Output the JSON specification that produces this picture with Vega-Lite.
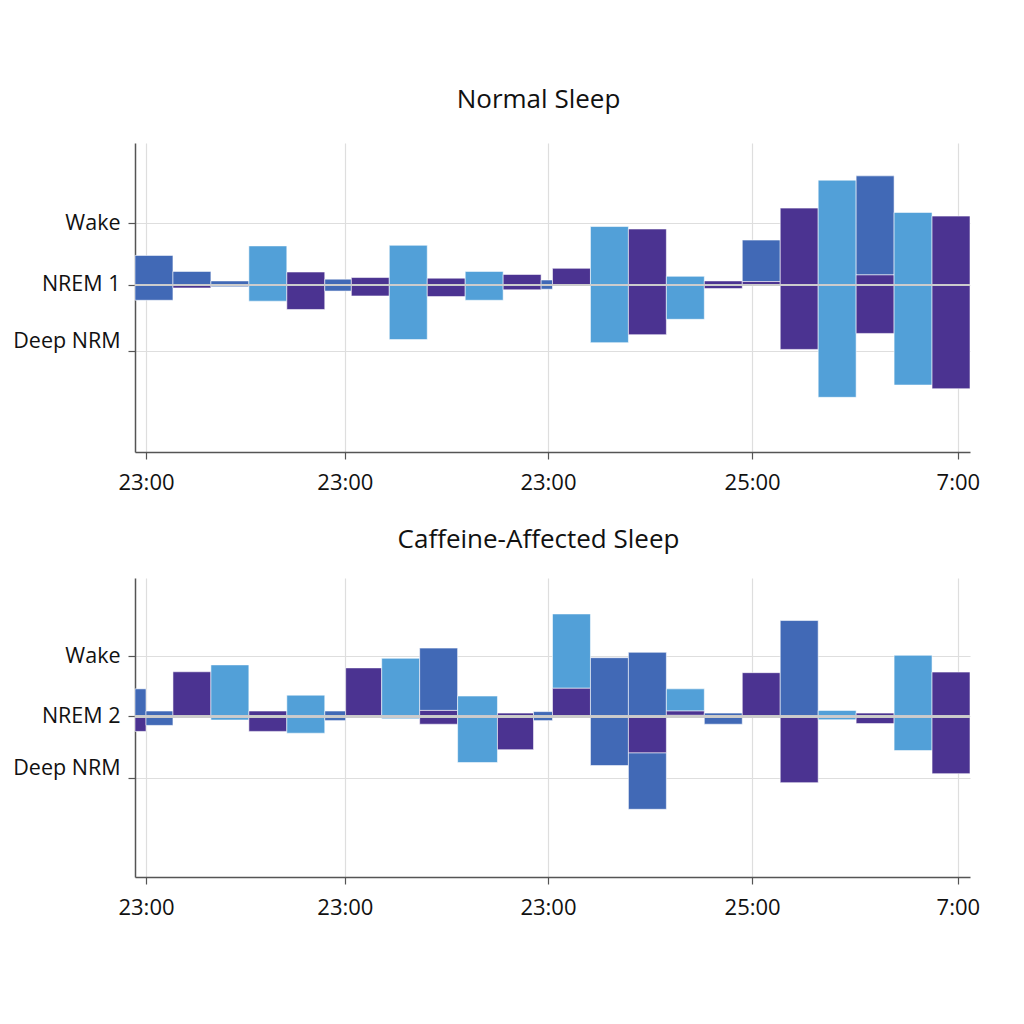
{
  "$schema": "https://vega.github.io/schema/vega-lite/v6.json",
  "background": "white",
  "padding": {"left": 12, "top": 87, "right": 10, "bottom": 10},
  "spacing": 34,
  "config": {
    "view": {"stroke": null},
    "font": "Open Sans",
    "title": {"font": "Open Sans", "fontSize": 26, "fontWeight": "normal", "color": "#111", "anchor": "middle", "frame": "group", "dx": -14},
    "axis": {
      "labelFont": "Open Sans", "labelColor": "#111",
      "domainColor": "#555", "domainWidth": 1.5, "tickColor": "#555", "tickWidth": 1.2, "tickSize": 7,
      "gridColor": "#dedede", "gridWidth": 1.2, "title": null
    }
  },
  "datasets": {
    "normal": [
      {"x0": 0, "x1": 1, "y0": 0.48, "y1": -0.25, "g": "B"},
      {"x0": 1, "x1": 2, "y0": 0.22, "y1": 0, "g": "B"},
      {"x0": 1, "x1": 2, "y0": 0, "y1": -0.05, "g": "C"},
      {"x0": 2, "x1": 3, "y0": 0.065, "y1": -0.03, "g": "B"},
      {"x0": 3, "x1": 4, "y0": 0.635, "y1": -0.265, "g": "A"},
      {"x0": 4, "x1": 5, "y0": 0.21, "y1": -0.40, "g": "C"},
      {"x0": 5, "x1": 5.7, "y0": 0.093, "y1": -0.10, "g": "B"},
      {"x0": 5.7, "x1": 6.7, "y0": 0.12, "y1": -0.18, "g": "C"},
      {"x0": 6.7, "x1": 7.7, "y0": 0.645, "y1": -0.89, "g": "A"},
      {"x0": 7.7, "x1": 8.7, "y0": 0.11, "y1": -0.19, "g": "C"},
      {"x0": 8.7, "x1": 9.7, "y0": 0.22, "y1": -0.25, "g": "A"},
      {"x0": 9.7, "x1": 10.7, "y0": 0.17, "y1": -0.08, "g": "C"},
      {"x0": 10.7, "x1": 11, "y0": 0.08, "y1": -0.07, "g": "B"},
      {"x0": 11, "x1": 12, "y0": 0.27, "y1": -0.015, "g": "C"},
      {"x0": 12, "x1": 13, "y0": 0.95, "y1": -0.94, "g": "A"},
      {"x0": 13, "x1": 14, "y0": 0.91, "y1": -0.81, "g": "C"},
      {"x0": 14, "x1": 15, "y0": 0.14, "y1": -0.56, "g": "A"},
      {"x0": 15, "x1": 16, "y0": 0.065, "y1": -0.06, "g": "C"},
      {"x0": 16, "x1": 17, "y0": 0.73, "y1": 0.055, "g": "B"},
      {"x0": 16, "x1": 17, "y0": 0.055, "y1": -0.015, "g": "C"},
      {"x0": 17, "x1": 18, "y0": 1.25, "y1": -1.05, "g": "C"},
      {"x0": 18, "x1": 19, "y0": 1.705, "y1": -1.83, "g": "A"},
      {"x0": 19, "x1": 20, "y0": 1.775, "y1": 0.163, "g": "B"},
      {"x0": 19, "x1": 20, "y0": 0.163, "y1": -0.79, "g": "C"},
      {"x0": 20, "x1": 21, "y0": 1.18, "y1": -1.63, "g": "A"},
      {"x0": 21, "x1": 22, "y0": 1.12, "y1": -1.69, "g": "C"}
    ],
    "caffeine": [
      {"x0": 0, "x1": 0.29, "y0": 0.46, "y1": 0, "g": "B"},
      {"x0": 0, "x1": 0.29, "y0": 0, "y1": -0.25, "g": "C"},
      {"x0": 0.29, "x1": 1, "y0": 0.09, "y1": -0.15, "g": "B"},
      {"x0": 1, "x1": 2, "y0": 0.745, "y1": -0.01, "g": "C"},
      {"x0": 2, "x1": 3, "y0": 0.86, "y1": -0.06, "g": "A"},
      {"x0": 3, "x1": 4, "y0": 0.09, "y1": -0.25, "g": "C"},
      {"x0": 4, "x1": 5, "y0": 0.355, "y1": -0.28, "g": "A"},
      {"x0": 5, "x1": 5.55, "y0": 0.09, "y1": -0.07, "g": "B"},
      {"x0": 5.55, "x1": 6.5, "y0": 0.81, "y1": -0.01, "g": "C"},
      {"x0": 6.5, "x1": 7.5, "y0": 0.97, "y1": -0.04, "g": "A"},
      {"x0": 7.5, "x1": 8.5, "y0": 1.14, "y1": 0.1, "g": "B"},
      {"x0": 7.5, "x1": 8.5, "y0": 0.1, "y1": -0.13, "g": "C"},
      {"x0": 8.5, "x1": 9.55, "y0": 0.34, "y1": -0.77, "g": "A"},
      {"x0": 9.55, "x1": 10.5, "y0": 0.055, "y1": -0.555, "g": "C"},
      {"x0": 10.5, "x1": 11, "y0": 0.08, "y1": -0.07, "g": "B"},
      {"x0": 11, "x1": 12, "y0": 1.71, "y1": 0.47, "g": "A"},
      {"x0": 11, "x1": 12, "y0": 0.47, "y1": 0, "g": "C"},
      {"x0": 12, "x1": 13, "y0": 0.98, "y1": -0.82, "g": "B"},
      {"x0": 13, "x1": 14, "y0": 1.07, "y1": 0, "g": "B"},
      {"x0": 13, "x1": 14, "y0": 0, "y1": -0.61, "g": "C"},
      {"x0": 13, "x1": 14, "y0": -0.61, "y1": -1.55, "g": "B"},
      {"x0": 14, "x1": 15, "y0": 0.46, "y1": 0.09, "g": "A"},
      {"x0": 14, "x1": 15, "y0": 0.09, "y1": 0.02, "g": "C"},
      {"x0": 15, "x1": 16, "y0": 0.055, "y1": -0.13, "g": "B"},
      {"x0": 16, "x1": 17, "y0": 0.73, "y1": 0, "g": "C"},
      {"x0": 17, "x1": 18, "y0": 1.6, "y1": 0, "g": "B"},
      {"x0": 17, "x1": 18, "y0": 0, "y1": -1.105, "g": "C"},
      {"x0": 18, "x1": 19, "y0": 0.1, "y1": -0.055, "g": "A"},
      {"x0": 19, "x1": 20, "y0": 0.055, "y1": -0.12, "g": "C"},
      {"x0": 20, "x1": 21, "y0": 1.02, "y1": -0.57, "g": "A"},
      {"x0": 21, "x1": 22, "y0": 0.74, "y1": -0.955, "g": "C"}
    ]
  },
  "vconcat": [
    {
      "title": {"text": "Normal Sleep", "offset": 30},
      "width": 835,
      "height": 309,
      "data": {"name": "normal"},
      "layer": [
        {
          "mark": {"type": "rect", "stroke": "#ffffff", "strokeWidth": 0.8, "strokeOpacity": 0.7},
          "encoding": {
            "x": {"field": "x0", "type": "quantitative", "scale": {"domain": [0, 22], "nice": false, "zero": false},
              "axis": {"values": [0.29, 5.53, 10.88, 16.26, 21.68], "grid": true, "labelPadding": 13, "labelFontSize": 22,
                "labelExpr": "datum.value < 11 ? '23:00' : datum.value < 17 ? '25:00' : '7:00'"}},
            "x2": {"field": "x1"},
            "y": {"field": "y0", "type": "quantitative", "scale": {"domain": [-2.72, 2.31], "nice": false, "zero": false},
              "axis": {"values": [1, 0, -1.075], "grid": true, "labelPadding": 8, "labelFontSize": 21.5,
                "labelBaseline": {"condition": {"test": "datum.value < -0.5", "value": "alphabetic"}, "value": "middle"},
                "labelOffset": {"condition": {"test": "datum.value < -0.5", "value": -3}, "value": 0},
                "labelExpr": "datum.value > 0.5 ? 'Wake' : datum.value > -0.5 ? 'NREM 1' : 'Deep NRM'"}},
            "y2": {"field": "y1"},
            "color": {"field": "g", "type": "nominal", "legend": null,
              "scale": {"domain": ["A", "B", "C"], "range": ["#52a0d8", "#4169b6", "#4b3391"]}}
          }
        },
        {
          "mark": {"type": "rule", "color": "#cccccc", "strokeWidth": 1.5},
          "encoding": {"y": {"datum": 0}}
        }
      ]
    },
    {
      "title": {"text": "Caffeine-Affected Sleep", "offset": 25},
      "width": 835,
      "height": 299,
      "data": {"name": "caffeine"},
      "layer": [
        {
          "mark": {"type": "rect", "stroke": "#ffffff", "strokeWidth": 0.8, "strokeOpacity": 0.7},
          "encoding": {
            "x": {"field": "x0", "type": "quantitative", "scale": {"domain": [0, 22], "nice": false, "zero": false},
              "axis": {"values": [0.29, 5.53, 10.88, 16.26, 21.68], "grid": true, "labelPadding": 13, "labelFontSize": 22,
                "labelExpr": "datum.value < 11 ? '23:00' : datum.value < 17 ? '25:00' : '7:00'"}},
            "x2": {"field": "x1"},
            "y": {"field": "y0", "type": "quantitative", "scale": {"domain": [-2.68, 2.31], "nice": false, "zero": false},
              "axis": {"values": [1, 0, -1.02], "grid": true, "labelPadding": 8, "labelFontSize": 21.5,
                "labelBaseline": {"condition": {"test": "datum.value < -0.5", "value": "alphabetic"}, "value": "middle"},
                "labelOffset": {"condition": {"test": "datum.value < -0.5", "value": -3}, "value": 0},
                "labelExpr": "datum.value > 0.5 ? 'Wake' : datum.value > -0.5 ? 'NREM 2' : 'Deep NRM'"}},
            "y2": {"field": "y1"},
            "color": {"field": "g", "type": "nominal", "legend": null,
              "scale": {"domain": ["A", "B", "C"], "range": ["#52a0d8", "#4169b6", "#4b3391"]}}
          }
        },
        {
          "mark": {"type": "rule", "color": "#cccccc", "strokeWidth": 1.5},
          "encoding": {"y": {"datum": 0}}
        }
      ]
    }
  ]
}
